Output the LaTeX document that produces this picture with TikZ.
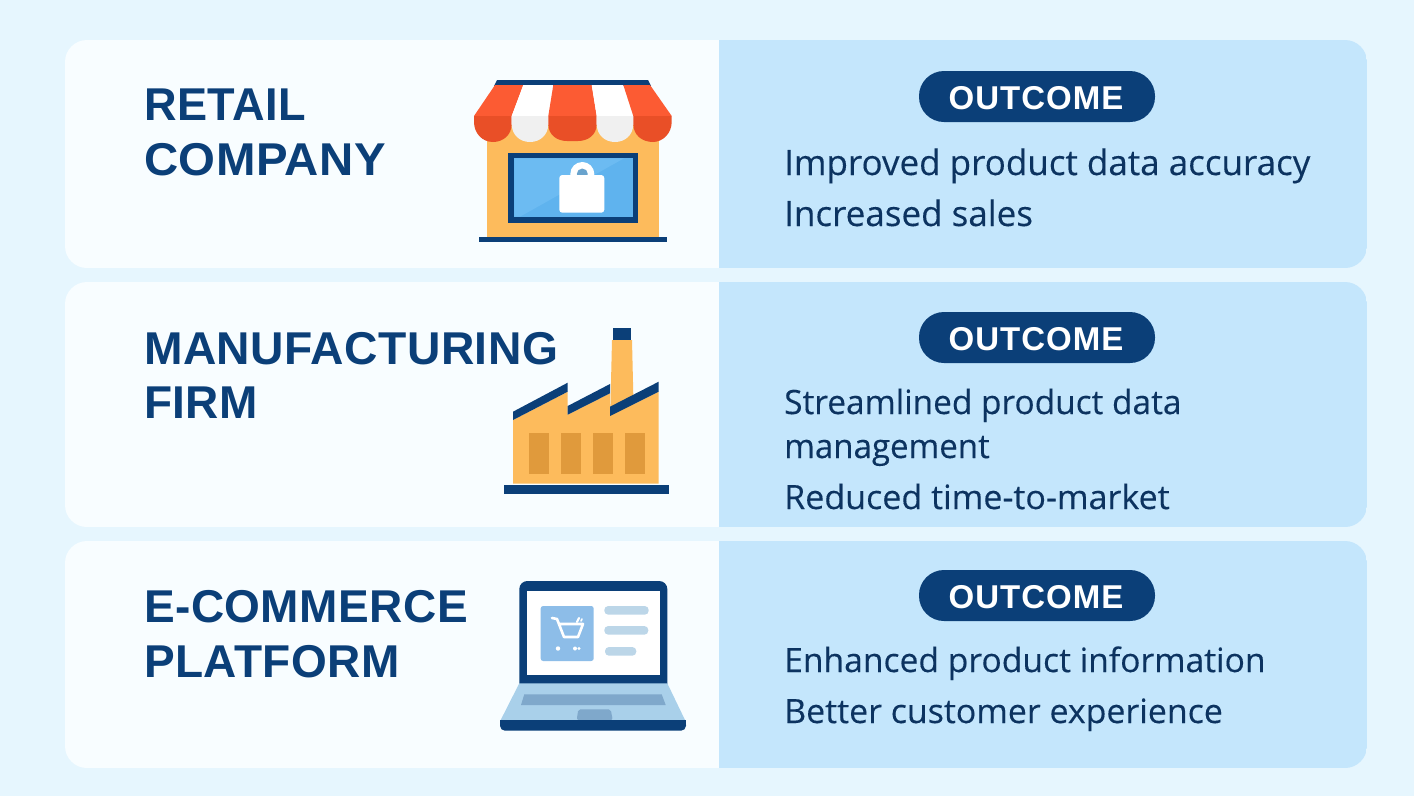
\documentclass[tikz,border=0pt]{standalone}
\usepackage{fontspec}
\setmainfont{Open Sans}
\newfontfamily\headfont[LetterSpace=1.0]{Liberation Sans}
\newfontfamily\pillfont[LetterSpace=3.0]{Liberation Sans}
\newfontfamily\bodyfont[FakeBold=0.25]{Open Sans}
\definecolor{bgc}{HTML}{E6F6FE}
\definecolor{leftc}{HTML}{F8FDFF}
\definecolor{rightc}{HTML}{C4E6FC}
\definecolor{navy}{HTML}{0B3F78}
\definecolor{inkc}{HTML}{0C3360}
\definecolor{amber}{HTML}{FDBB5C}
\definecolor{amberd}{HTML}{E09A3C}
\definecolor{redl}{HTML}{FC5B33}
\definecolor{redd}{HTML}{E94F27}
\definecolor{offw}{HTML}{F0F0F0}
\definecolor{winc}{HTML}{5FB3EE}
\definecolor{winl}{HTML}{6CBBF2}
\definecolor{lapl}{HTML}{A9D0EA}
\definecolor{lapd}{HTML}{7FA8CB}
\definecolor{thumb}{HTML}{8DBDE8}
\definecolor{linec}{HTML}{BCD6E8}
\tikzset{
  x=1pt,y=-1pt,
  head/.style={anchor=base west,inner sep=0pt,text=navy,font=\headfont\bfseries\fontsize{46}{50}\selectfont},
  body/.style={anchor=base west,inner sep=0pt,text=inkc,font=\bodyfont\fontsize{33.5}{38}\selectfont},
  bodyb/.style={body,font=\bodyfont\fontsize{35}{40}\selectfont},
  pilltext/.style={anchor=base,inner sep=0pt,text=white,font=\pillfont\bfseries\fontsize{33}{36}\selectfont},
  pill/.style={fill=navy,rounded corners=25pt},
}
\newcommand{\cardrow}[2]{%
  \begin{scope}
  \clip[rounded corners=22pt] (65,#1) rectangle (1367,#2);
  \fill[leftc] (65,#1) rectangle (719,#2);
  \fill[rightc] (719,#1) rectangle (1367,#2);
  \end{scope}
}
\newcommand{\bt}[2]{\scalebox{#1}[1]{#2}}
\begin{document}
\begin{tikzpicture}
\useasboundingbox (0,0) rectangle (1414,796);
\fill[bgc] (0,0) rectangle (1414,796);
\cardrow{40}{268}
\cardrow{282}{527}
\cardrow{541}{768}
% pills
\fill[pill] (919,71) rectangle (1155,122);
\fill[pill] (919,312) rectangle (1155,363);
\fill[pill] (919,570) rectangle (1155,621);
\node[pilltext] (p1) at (1036,109) {OUTCOME};
\node[pilltext] (p2) at (1036,350) {OUTCOME};
\node[pilltext] (p3) at (1036,608) {OUTCOME};
% headings
\node[head] (h1a) at (144,120) {\bt{0.98}{RETAIL}};
\node[head] (h1b) at (144,175) {\bt{1.03}{COMPANY}};
\node[head] (h2a) at (144,364) {\bt{1.005}{MANUFACTURING}};
\node[head] (h2b) at (144,418) {FIRM};
\node[head] (h3a) at (144,622) {E-COMMERCE};
\node[head] (h3b) at (144,677) {PLATFORM};
% body
\node[bodyb] (b1a) at (784,175) {Improved product data accuracy};
\node[bodyb] (b1b) at (784,226) {Increased sales};
\node[body] (b2a) at (784,414) {\bt{0.9975}{Streamlined product data}};
\node[body] (b2b) at (784,458) {\bt{0.986}{management}};
\node[body] (b2c) at (784,509) {\bt{1.016}{Reduced time-to-market}};
\node[body] (b3a) at (784,672) {\bt{1.004}{Enhanced product information}};
\node[body] (b3b) at (784,723) {\bt{1.012}{Better customer experience}};
% shop
\fill[amber] (487,125) rectangle (659,238);
\fill[navy] (479,237) rectangle (667,242);
\fill[navy] (497,80) -- (648,80) -- (651,86) -- (494,86) -- cycle;
\fill[redl] (495,85) -- (523.3,85) -- (511.7,116) -- (474,116) -- cycle;
\fill[white] (523.3,85) -- (553.3,85) -- (548.3,116) -- (511.7,116) -- cycle;
\fill[redl] (553.3,85) -- (591.7,85) -- (596.7,116) -- (548.3,116) -- cycle;
\fill[white] (591.7,85) -- (623.3,85) -- (633.3,116) -- (596.7,116) -- cycle;
\fill[redl] (623.3,85) -- (650,85) -- (671.7,116) -- (633.3,116) -- cycle;
\fill[redd] (474,116) -- (511.7,116) -- (511.7,124) .. controls (511.7,135) and (503,142) .. (493,142) .. controls (482,142) and (474,133) .. (474,122) -- cycle;
\fill[offw] (511.7,116) -- (548.3,116) -- (548.3,124) .. controls (548.3,135) and (540,142) .. (530,142) .. controls (520,142) and (511.7,135) .. (511.7,124) -- cycle;
\fill[redd] (548.3,116) -- (596.7,116) -- (596.7,124) .. controls (596.7,135) and (588,141) .. (578,141) -- (567,141) .. controls (557,141) and (548.3,135) .. (548.3,124) -- cycle;
\fill[offw] (596.7,116) -- (633.3,116) -- (633.3,124) .. controls (633.3,135) and (625,142) .. (615,142) .. controls (605,142) and (596.7,135) .. (596.7,124) -- cycle;
\fill[redd] (633.3,116) -- (671.7,116) -- (671.7,122) .. controls (671.7,133) and (663,142) .. (653,142) .. controls (642,142) and (633.3,135) .. (633.3,124) -- cycle;
\fill[navy] (508.3,153.3) rectangle (638.3,222.7);
\fill[winc] (514.3,158.3) rectangle (632.7,216.7);
\fill[winl] (514.3,158.3) -- (624,158.3) -- (520,216.7) -- (514.3,216.7) -- cycle;
\fill[white] (582.3,174) circle[radius=12];
\fill[winc!70!gray] (582.3,174) circle[radius=5.5];
\fill[white,rounded corners=3pt] (559.3,175) rectangle (604.3,212.7);
% factory
\fill[amber] (612,340) -- (632,340) -- (634,425) -- (610,425) -- cycle;
\fill[navy] (613.3,328) rectangle (631,340);
\fill[amber] (513,420) -- (567.7,391.7) -- (567.7,414.7) -- (610,393.3) -- (610,416) -- (658.7,391.7) -- (658.7,483.5) -- (513,483.5) -- cycle;
\fill[navy] (513,411.7) -- (567.7,382.7) -- (567.7,391.7) -- (513,420) -- cycle;
\fill[navy] (567.7,406) -- (610,384) -- (610,393.3) -- (567.7,414.7) -- cycle;
\fill[navy] (610,406.7) -- (658.7,381.7) -- (658.7,391.7) -- (610,416) -- cycle;
\fill[amberd] (529.3,433.3) rectangle (549,474.3);
\fill[amberd] (561.3,433.3) rectangle (581,474.3);
\fill[amberd] (593,433.3) rectangle (612.7,474.3);
\fill[amberd] (625,433.3) rectangle (645,474.3);
\fill[navy] (504,485) rectangle (669,493.7);
% laptop
\fill[navy,rounded corners=8pt] (519.3,695) -- (519.3,581) -- (667.3,581) -- (667.3,695) -- cycle;
\fill[white] (526.7,590.7) rectangle (660,675);
\fill[thumb,rounded corners=2.5pt] (540.7,606) rectangle (593.7,661);
\fill[linec,rounded corners=4pt] (604.3,606) rectangle (648.7,614.7);
\fill[linec,rounded corners=4pt] (604.3,626) rectangle (648.3,634.7);
\fill[linec,rounded corners=4pt] (605,647) rectangle (636.3,655.7);
\fill[lapl] (519.3,683.3) -- (667.3,683.3) -- (685,720) -- (500.7,720) -- cycle;
\fill[lapd] (524.3,694.3) -- (661.7,694.3) -- (665.7,705) -- (521,705) -- cycle;
\fill[lapd,rounded corners=2pt] (578.3,709.3) -- (610.7,709.3) -- (612.7,720) -- (576.7,720) -- cycle;
\fill[navy,rounded corners=5pt] (500,720) -- (686,720) -- (686,730.7) -- (500,730.7) -- cycle;
\fill[navy] (500,720) rectangle (686,725);
% cart
\draw[white,line width=2.6pt,line cap=round,line join=round] (552,618) -- (557,619) -- (564,637) -- (578,637) -- (583,624) -- (559,624);
\draw[white,line width=2.2pt,line cap=round] (577,622) -- (579,618);
\draw[white,line width=1.6pt,line cap=round] (581,621) -- (582,619);
\fill[white] (558,648.5) circle[radius=2.2];
\fill[white] (575,648.5) circle[radius=2];
\fill[white] (579,648.5) circle[radius=1.7];
\end{tikzpicture}
\end{document}
